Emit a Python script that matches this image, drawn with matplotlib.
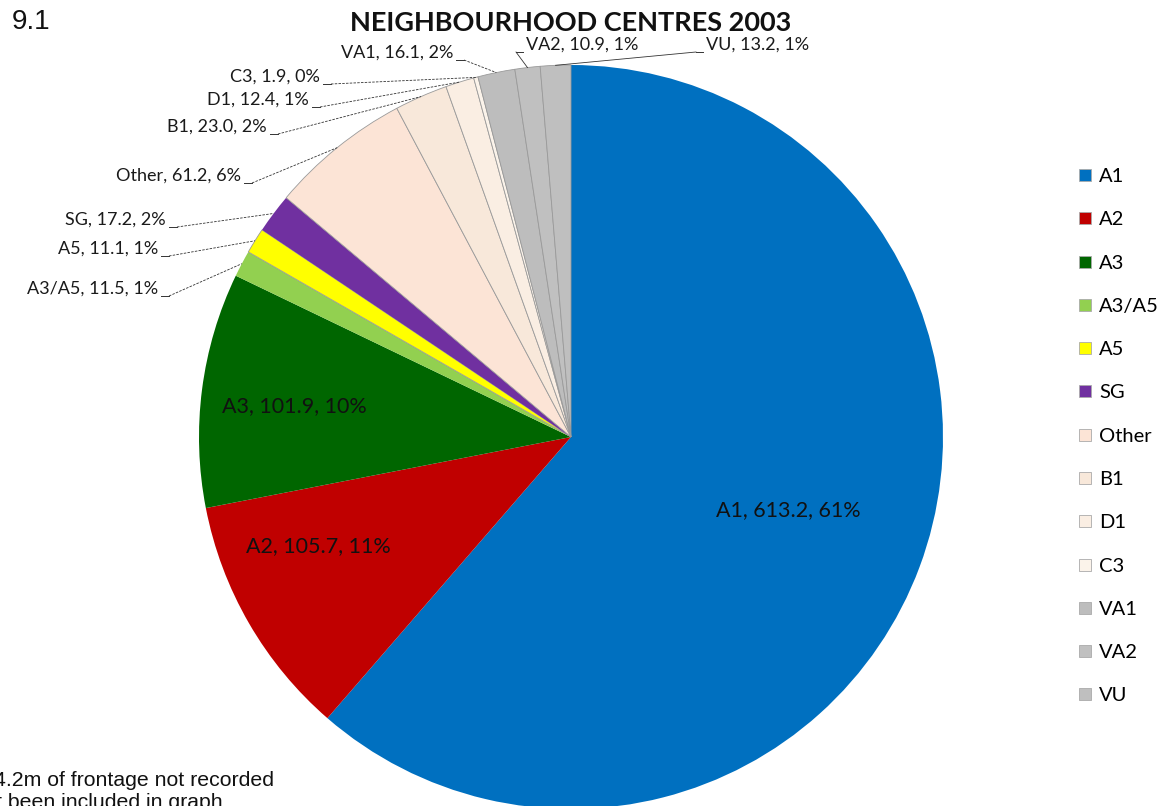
import numpy as np
import matplotlib.pyplot as plt
from matplotlib.lines import Line2D

plt.rcParams['font.family'] = ['Lato', 'DejaVu Sans']

# data
names = ['A1', 'A2', 'A3', 'A3/A5', 'A5', 'SG', 'Other', 'B1', 'D1', 'C3', 'VA1', 'VA2', 'VU']
values = [613.2, 105.7, 101.9, 11.5, 11.1, 17.2, 61.2, 23.0, 12.4, 1.9, 16.1, 10.9, 13.2]
pcts = ['61%', '11%', '10%', '1%', '1%', '2%', '6%', '2%', '1%', '0%', '2%', '1%', '1%']
colors = ['#0070C0', '#C00000', '#006600', '#92D050', '#FFFF00', '#7030A0',
          '#FCE4D6', '#F8E8DA', '#FAEEE3', '#FBF3EA', '#BDBDBD', '#C0C0C0', '#BFBFBF']

# label placement in pixels from top-left: (x, y, ha)
lab_pos = {
    'A1': (788, 510, 'center'),
    'A2': (318, 546, 'center'),
    'A3': (294, 406, 'center'),
    'A3/A5': (158, 289, 'right'),
    'A5': (158, 249, 'right'),
    'SG': (166, 220, 'right'),
    'Other': (241, 176, 'right'),
    'B1': (267, 127, 'right'),
    'D1': (309, 100, 'right'),
    'C3': (320, 77, 'right'),
    'VA1': (453, 53, 'right'),
    'VA2': (526, 45, 'left'),
    'VU': (706, 45, 'left'),
}
inside = ['A1', 'A2', 'A3']

W, H = 1171, 806
fig = plt.figure(figsize=(W / 100, H / 100), dpi=100)
ax = fig.add_axes([0, 0, 1, 1])

cx, cy, r = 571, H - 437, 372
wedges, _ = ax.pie(values, colors=colors, startangle=90, counterclock=False,
                   center=(cx, cy), radius=r, frame=True,
                   wedgeprops=dict(linewidth=0))
for w, c in zip(wedges, colors):
    if c.startswith('#F') or c in ('#BDBDBD', '#C0C0C0', '#BFBFBF'):
        w.set_edgecolor('#9a9a9a')
        w.set_linewidth(0.6)
ax.set_xlim(0, W)
ax.set_ylim(0, H)
ax.set_aspect('equal')
ax.axis('off')

for w, n, v, p in zip(wedges, names, values, pcts):
    x, y, ha = lab_pos[n]
    txt = f'{n}, {v:.1f}, {p}'
    if n in inside:
        ax.text(x, H - y, txt, ha='center', va='center', fontsize=15.5, color='#111111')
        continue
    ax.text(x, H - y, txt, ha=ha, va='center', fontsize=13, color='#1a1a1a')
    ang = np.deg2rad((w.theta1 + w.theta2) / 2)
    ex, ey = cx + r * np.cos(ang), cy + r * np.sin(ang)
    ly = H - y - 7
    if ha == 'right':
        sx = x + 3
        ax.plot([sx, sx + 8], [ly, ly], color='#333333', lw=0.7)
        ax.plot([sx + 8, ex], [ly, ey], color='#333333', lw=0.6, ls=(0, (3, 1.5)))
    else:
        sx = x - 3
        ax.plot([sx - 7, sx], [ly, ly], color='#333333', lw=0.7)
        ax.plot([sx - 7, ex], [ly, ey], color='#333333', lw=0.6)

ax.text(571, H - 23, 'NEIGHBOURHOOD CENTRES 2003', ha='center', va='center',
        fontsize=19.5, fontweight='bold', color='#111111')
ax.text(12, H - 22, '9.1', ha='left', va='center', fontsize=20,
        family='Liberation Sans', color='#111111')
ax.text(-6, H - 781, '4.2m of frontage not recorded', ha='left', va='center',
        fontsize=15.3, family='Liberation Sans', color='#111111')
ax.text(-4, H - 802, 't been included in graph', ha='left', va='center',
        fontsize=15.3, family='Liberation Sans', color='#111111')

handles = [Line2D([], [], marker='s', ls='', markersize=9, markerfacecolor=c,
                  markeredgecolor='#aaaaaa', markeredgewidth=0.6) for c in colors]
fig.legend(handles, names, loc='upper left', bbox_to_anchor=(1078 / W, 1 - 168 / H),
           frameon=False, fontsize=14.5, handlelength=0.7, handletextpad=0.35,
           labelspacing=1.3, borderaxespad=0, borderpad=0)

fig.savefig('out.png', dpi=100)
